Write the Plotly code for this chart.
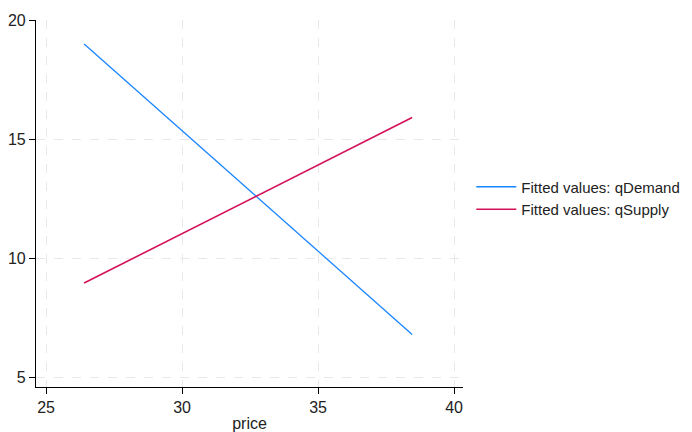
import plotly.graph_objects as go

price = [26.4, 38.46]
q_demand = [19.02, 6.81]
q_supply = [8.97, 15.93]

fig = go.Figure()
fig.add_trace(go.Scatter(x=price, y=q_demand, mode="lines", name="Fitted values: qDemand",
                         line=dict(color="#1a85ff", width=1.3)))
fig.add_trace(go.Scatter(x=price, y=q_supply, mode="lines", name="Fitted values: qSupply",
                         line=dict(color="#d41159", width=1.6)))

FONT = "Liberation Sans, Arial"
axis_common = dict(showline=True, linecolor="black", linewidth=1.2, ticks="outside", ticklen=6,
                   tickcolor="black", showgrid=True, gridcolor="#e8e8e8", griddash="dash",
                   gridwidth=1, zeroline=False, automargin=False,
                   tickfont=dict(family=FONT, size=16, color="#222"))
fig.update_xaxes(range=[24.63, 40.33], tickvals=[25, 30, 35, 40], title=dict(text="price", standoff=4,
                 font=dict(family=FONT, size=16, color="#222")), **axis_common)
fig.update_yaxes(range=[4.6, 20.03], tickvals=[5, 10, 15, 20], **axis_common)

# page body has an 8px default margin, so the figure is 8px smaller each way
fig.update_layout(
    width=684, height=424,
    margin=dict(l=28, r=229, t=12, b=45, autoexpand=False),
    plot_bgcolor="white", paper_bgcolor="white",
    font=dict(family=FONT, size=16, color="#222"),
    legend=dict(x=1.0195, xanchor="left", y=0.515, yanchor="middle", font=dict(size=15),
                tracegroupgap=0, itemwidth=40),
    showlegend=True,
)
fig.write_html("out.html")
